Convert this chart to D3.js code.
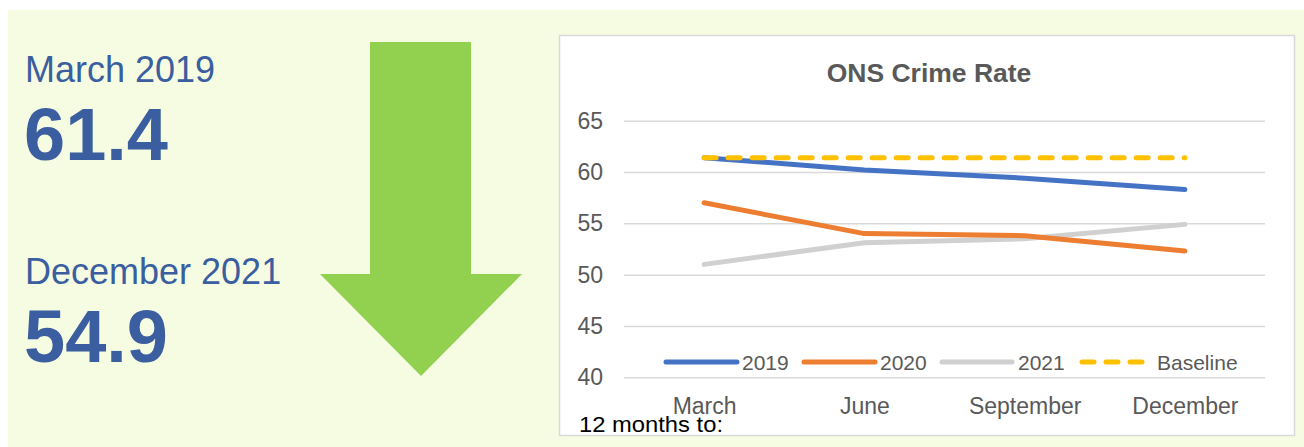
<!DOCTYPE html>
<html>
<head>
<meta charset="utf-8">
<script src="https://cdn.jsdelivr.net/npm/d3@7"></script>
<style>
  body { margin: 0; background: #fff; }
  svg text { font-family: "Liberation Sans", Arial, sans-serif; }
</style>
</head>
<body>
<div id="chart"></div>
<script>
// Data
var months = ["March", "June", "September", "December"];
var values2019 = [61.4, 60.2, 59.4, 58.3];
var values2020 = [57.0, 54.0, 53.8, 52.3];
var values2021 = [51.0, 53.1, 53.5, 54.9];
var baseline = [61.4, 61.4, 61.4, 61.4];
var yTicks = [40, 45, 50, 55, 60, 65];
var seriesNames = ["2019", "2020", "2021", "Baseline"];

// headline figures on the left
var startLabel = "March 2019";
var startValue = values2019[0];
var endLabel = "December 2021";
var endValue = values2021[3];

var svgWidth = 1304;
var svgHeight = 447;

var svg = d3.select("#chart")
  .append("svg")
  .attr("width", svgWidth)
  .attr("height", svgHeight);

// light green panel
svg.append("rect")
  .attr("x", 8)
  .attr("y", 10)
  .attr("width", svgWidth - 8)
  .attr("height", svgHeight - 10)
  .attr("fill", "#F5FCE2");

var blue = "#3A5E9F";

// Left-hand figures
svg.append("text")
  .attr("x", 25)
  .attr("y", 82)
  .attr("font-size", 36)
  .attr("fill", blue)
  .text(startLabel);

svg.append("text")
  .attr("x", 24)
  .attr("y", 160)
  .attr("font-size", 74)
  .attr("font-weight", "bold")
  .attr("fill", blue)
  .text(startValue.toFixed(1));

svg.append("text")
  .attr("x", 25)
  .attr("y", 284)
  .attr("font-size", 36)
  .attr("fill", blue)
  .text(endLabel);

svg.append("text")
  .attr("x", 24)
  .attr("y", 362)
  .attr("font-size", 74)
  .attr("font-weight", "bold")
  .attr("fill", blue)
  .text(endValue.toFixed(1));

// Down arrow
var arrow = d3.path();
arrow.moveTo(370, 42);
arrow.lineTo(471, 42);
arrow.lineTo(471, 274);
arrow.lineTo(522, 274);
arrow.lineTo(421, 376);
arrow.lineTo(320, 274);
arrow.lineTo(370, 274);
arrow.closePath();

svg.append("path")
  .attr("d", arrow.toString())
  .attr("fill", "#92D050");

// Chart box
svg.append("rect")
  .attr("x", 559.5)
  .attr("y", 35.5)
  .attr("width", 735)
  .attr("height", 400)
  .attr("fill", "#fff")
  .attr("stroke", "#D9D9D9")
  .attr("stroke-width", 1.5);

svg.append("text")
  .attr("x", 929)
  .attr("y", 82)
  .attr("text-anchor", "middle")
  .attr("font-size", 26.5)
  .attr("font-weight", "bold")
  .attr("fill", "#595959")
  .text("ONS Crime Rate");

var plot = { left: 624, right: 1265, top: 120.7, bottom: 377.3 };

var xScale = d3.scalePoint()
  .domain(months)
  .range([plot.left, plot.right])
  .padding(0.5);

var yScale = d3.scaleLinear()
  .domain([40, 65])
  .range([plot.bottom, plot.top]);

// y axis with gridlines
var leftAxis = d3.axisLeft(yScale)
  .tickValues(yTicks)
  .tickSize(-(plot.right - plot.left))
  .tickPadding(21);

var yAxis = svg.append("g")
  .attr("transform", `translate(${plot.left}, 0)`)
  .call(leftAxis);

yAxis.select(".domain").remove();
yAxis.selectAll(".tick line")
  .attr("stroke", "#D9D9D9")
  .attr("stroke-width", 1.5);
yAxis.selectAll(".tick text")
  .attr("font-size", 23)
  .attr("font-family", "Liberation Sans, Arial, sans-serif")
  .attr("fill", "#595959");

// x axis labels
var bottomAxis = d3.axisBottom(xScale)
  .tickSize(0)
  .tickPadding(20.5);

var xAxis = svg.append("g")
  .attr("transform", `translate(0, ${plot.bottom})`)
  .call(bottomAxis);

xAxis.select(".domain").remove();
xAxis.selectAll(".tick text")
  .attr("font-size", 23)
  .attr("font-family", "Liberation Sans, Arial, sans-serif")
  .attr("fill", "#595959");

// Lines
var series = [
  { name: seriesNames[0], values: values2019, color: "#4472C4", dash: null },
  { name: seriesNames[1], values: values2020, color: "#ED7D31", dash: null },
  { name: seriesNames[2], values: values2021, color: "#D0D0D0", dash: null },
  { name: seriesNames[3], values: baseline, color: "#FFC000", dash: "12,12" }
];

var line = d3.line()
  .x((d, i) => xScale(months[i]))
  .y(d => yScale(d));

// draw gray first so it sits under the others like the original
var drawOrder = [2, 1, 0, 3];
drawOrder.forEach(function(i) {
  var s = series[i];
  svg.append("path")
    .datum(s.values)
    .attr("d", line)
    .attr("fill", "none")
    .attr("stroke", s.color)
    .attr("stroke-width", 5)
    .attr("stroke-linecap", "round")
    .attr("stroke-linejoin", "round")
    .attr("stroke-dasharray", s.dash);
});

// Legend
var legendY = 362;
var legendItems = [
  { x1: 666, x2: 737, tx: 742 },
  { x1: 804, x2: 875, tx: 880 },
  { x1: 942, x2: 1012, tx: 1018 },
  { x1: 1082, x2: 1142, tx: 1157 }
];

legendItems.forEach(function(item, i) {
  var s = series[i];
  svg.append("line")
    .attr("x1", item.x1)
    .attr("x2", item.x2)
    .attr("y1", legendY)
    .attr("y2", legendY)
    .attr("stroke", s.color)
    .attr("stroke-width", 5)
    .attr("stroke-linecap", "round")
    .attr("stroke-dasharray", s.dash);

  svg.append("text")
    .attr("x", item.tx)
    .attr("y", legendY + 7.5)
    .attr("font-size", 21)
    .attr("font-family", "Lato, 'Open Sans', sans-serif")
    .attr("fill", "#595959")
    .text(s.name);
});

svg.append("text")
  .attr("x", 579)
  .attr("y", 431.5)
  .attr("font-size", 22)
  .attr("fill", "#000")
  .attr("textLength", 144)
  .attr("lengthAdjust", "spacingAndGlyphs")
  .text("12 months to:");
</script>
</body>
</html>
